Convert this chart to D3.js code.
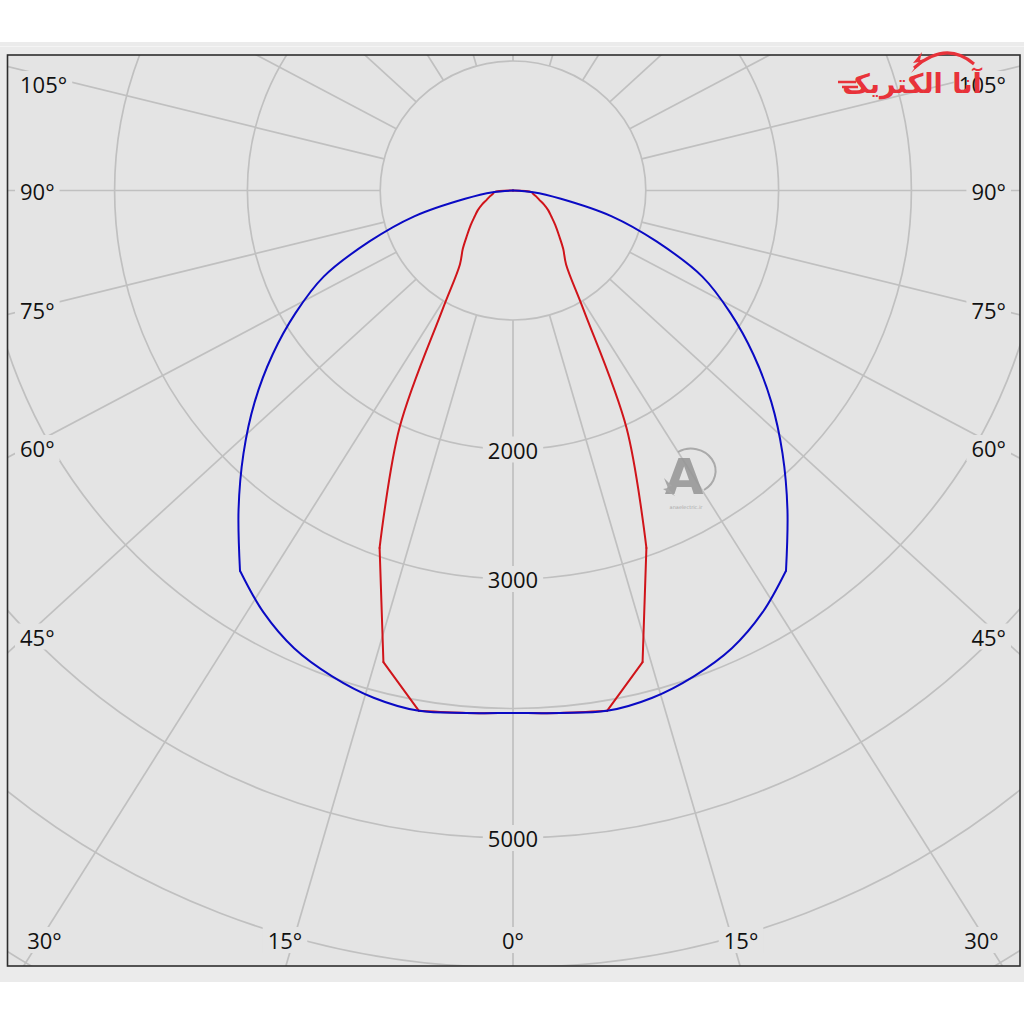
<!DOCTYPE html>
<html><head><meta charset="utf-8">
<script src="https://cdn.jsdelivr.net/npm/d3@7"></script>
<style>body{margin:0;background:#fff}</style>
</head><body><svg id="c" width="1024" height="1024"></svg>
<script>
// ---- data ----
const angles = [0,5,10,15,20,25,30,35,40,45,50,55,60,65,70,75,80,85,90];
const blueValues = [4035,4050,4080,4055,3990,3900,3760,3584,3215,2870,2539,2211,1890,1573,1150,770,366,152,0];
const redValues  = [4035,4050,4080,3770,2937,2022,1062,697,588,489,416,354,307,258,211,182,155,140,0];
const blueCorners = [35];
const redCorners = [10,15,20];
const ringValues = [1000,2000,3000,4000,5000,6000,7000,8000];
const ringLabels = [2000,3000,5000];
const spokeAngles = d3.range(0,360,15);
const angleLabels = [-105,-90,-75,-60,-45,-30,-15,0,15,30,45,60,75,90,105];

// ---- layout ----
const svg = d3.select("#c");
const cx = 513, cy = 190.5;
const frame = {x:7.5, y:55, w:1012.5, h:911};
const plotBg = "#e4e4e4";
const xs = d3.scaleLinear().domain([0,1000]).range([0,132.8]);
const ys = d3.scaleLinear().domain([0,1000]).range([0,129.5]);
const k = 1.093;

svg.append("rect").attr("x",0).attr("y",0).attr("width",1024).attr("height",1024).attr("fill","#fff");
svg.append("rect").attr("x",0).attr("y",42).attr("width",1024).attr("height",940).attr("fill","#ebebeb");
svg.append("line").attr("x1",0).attr("x2",1024).attr("y1",46.5).attr("y2",46.5).attr("stroke","#f4f4f4").attr("stroke-width",1);
svg.append("rect").attr("x",frame.x).attr("y",frame.y).attr("width",frame.w).attr("height",frame.h).attr("fill",plotBg);

const defs = svg.append("defs");
defs.append("clipPath").attr("id","clip").append("rect")
  .attr("x",frame.x).attr("y",frame.y).attr("width",frame.w).attr("height",frame.h);
const g = svg.append("g").attr("clip-path","url(#clip)");

const gridColor = "#c0c0c0";
// rings
g.selectAll("ellipse.ring").data(ringValues).join("ellipse")
  .attr("cx",cx).attr("cy",cy)
  .attr("rx",d=>xs(d)).attr("ry",d=>ys(d))
  .attr("fill","none").attr("stroke",gridColor).attr("stroke-width",1.7);

// spokes
function spoke(a){
  const t = a*Math.PI/180;
  const dx = Math.sin(t)*k, dy = Math.cos(t);
  const s0 = 1/Math.sqrt(Math.pow(dx/xs(1000),2)+Math.pow(dy/ys(1000),2));
  return [cx+dx*s0, cy+dy*s0, cx+dx*2000, cy+dy*2000];
}
g.selectAll("line.spoke").data(spokeAngles).join("line")
  .attr("x1",d=>spoke(d)[0]).attr("y1",d=>spoke(d)[1])
  .attr("x2",d=>spoke(d)[2]).attr("y2",d=>spoke(d)[3])
  .attr("stroke",gridColor).attr("stroke-width",1.7);

// curves: mirrored series, split at corners, smoothed between corners
function fullSeries(vals){
  const pts = [];
  for(let i=angles.length-1;i>=0;i--) pts.push({a:-angles[i], v:vals[i]});
  for(let i=1;i<angles.length;i++) pts.push({a:angles[i], v:vals[i]});
  return pts;
}
function segments(vals, corners){
  const pts = fullSeries(vals);
  const brk = new Set(); corners.forEach(c=>{brk.add(c);brk.add(-c);});
  const segs = []; let cur = [];
  pts.forEach(p=>{ cur.push(p); if(brk.has(p.a)){ segs.push(cur); cur=[p]; } });
  if(cur.length>1) segs.push(cur);
  return segs;
}
const line = d3.line()
  .x(d=>cx + xs(d.v)*Math.sin(d.a*Math.PI/180))
  .y(d=>cy + ys(d.v)*Math.cos(d.a*Math.PI/180))
  .curve(d3.curveCatmullRom.alpha(0.5));
function drawSeries(vals, corners, color){
  g.append("g").selectAll("path").data(segments(vals,corners)).join("path")
    .attr("d",line).attr("fill","none").attr("stroke",color)
    .attr("stroke-width",2).attr("stroke-linejoin","round").attr("stroke-linecap","round");
}
drawSeries(redValues, redCorners, "#d0141a");
drawSeries(blueValues, blueCorners, "#0a0ac4");

// watermark
const wm = svg.append("g").attr("opacity",0.85);
wm.append("path").attr("d","M 678 452 A 23 21 0 1 1 704 490")
  .attr("fill","none").attr("stroke","#a0a0a0").attr("stroke-width",2);
wm.append("text").attr("x",684).attr("y",494).attr("text-anchor","middle")
  .attr("font-family","DejaVu Sans").attr("font-weight","bold").attr("font-size",50)
  .attr("fill","#959595").text("A");
wm.append("path").attr("d","M 664 478 L 672 486 L 667 487 L 675 496 L 663 489 L 668 488 Z").attr("fill","#9c9c9c");
wm.append("text").attr("x",686).attr("y",509).attr("text-anchor","middle")
  .attr("font-family","DejaVu Sans").attr("font-size",5).attr("fill","#a0a0a0").text("anaelectric.ir");

// label helper
const fontFam = "'Open Sans', 'Segoe UI', Tahoma, sans-serif";
function label(x,y,txt,anchor){
  const grp = svg.append("g");
  const r = grp.append("rect").attr("fill",plotBg);
  const t = grp.append("text").attr("x",x).attr("y",y).attr("text-anchor",anchor)
    .attr("dominant-baseline","central").attr("font-family",fontFam)
    .attr("font-size",22).attr("fill","#111").text(txt);
  const b = t.node().getBBox();
  r.attr("x",b.x-5).attr("y",b.y+2).attr("width",b.width+10).attr("height",b.height-4);
}
ringLabels.forEach(v=>label(cx, cy+ys(v), String(v), "middle"));
angleLabels.forEach(a=>{
  const abs = Math.abs(a), txt = abs+"°";
  if(abs>=45){
    let y = cy + 446/Math.tan(abs*Math.PI/180);
    if(abs===90) y = cy;
    y = Math.max(y, 84);
    if(a<0) label(20, y, txt, "start"); else label(1006, y, txt, "end");
  } else {
    let x = cx + 851*Math.tan(a*Math.PI/180);
    x = Math.max(44.5, Math.min(981.5, x));
    label(x, 940, txt, "middle");
  }
});

// frame border
svg.append("rect").attr("x",frame.x).attr("y",frame.y).attr("width",frame.w).attr("height",frame.h)
  .attr("fill","none").attr("stroke","#2e2e2e").attr("stroke-width",1.6);

// logo
const lg = svg.append("g");
lg.append("text").attr("x",912).attr("y",93).attr("text-anchor","middle")
  .attr("font-family","DejaVu Sans").attr("font-weight","bold").attr("font-size",27)
  .attr("fill","#e8323a").text("آنا الکتریک");
lg.append("path").attr("d","M 914 68 Q 946 40 974 64").attr("fill","none").attr("stroke","#e8323a").attr("stroke-width",3);
lg.append("path").attr("d","M 922 52 L 913 63 L 919 62 L 911 73 L 926 59 L 920 60 Z").attr("fill","#e8323a");
[[838,856,82],[842,858,87],[846,860,92]].forEach(s=>
  lg.append("line").attr("x1",s[0]).attr("x2",s[1]).attr("y1",s[2]).attr("y2",s[2]).attr("stroke","#e8323a").attr("stroke-width",2.5));
</script></body></html>
